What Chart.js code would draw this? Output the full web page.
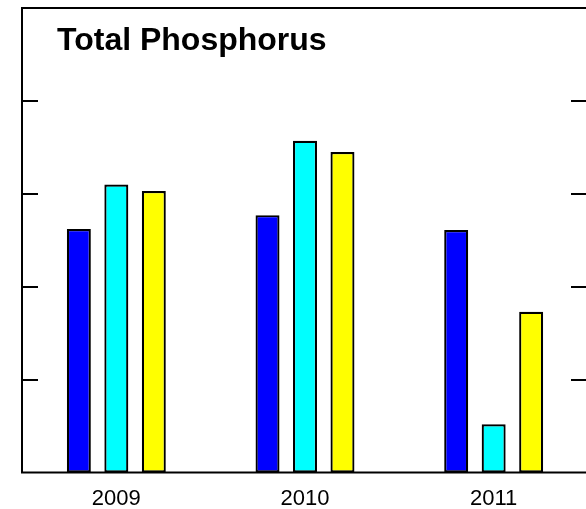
<!DOCTYPE html>
<html>
<head>
<meta charset="utf-8">
<script src="https://cdn.jsdelivr.net/npm/chart.js@4/dist/chart.umd.min.js"></script>
<style>
  html, body { margin: 0; padding: 0; background: #fff; overflow: hidden; }
  #wrap { width: 586px; height: 509px; overflow: hidden; }
</style>
</head>
<body>
<div id="wrap">
  <canvas id="chart" width="600" height="509"></canvas>
</div>
<script>
const years = ["2009", "2010", "2011"];
const seriesA = [2.62, 2.77, 2.61];
const seriesB = [3.1, 3.57, 0.52];
const seriesC = [3.03, 3.45, 1.73];
const yTicks = [1, 2, 3, 4];
const chartTitle = "Total Phosphorus";

// frame, inward ticks on both sides and the title inside the plot
const framePlugin = {
  id: "frame",
  afterDraw(chart) {
    const { ctx, chartArea } = chart;
    const y = chart.scales.y;
    ctx.save();
    ctx.strokeStyle = "#000";
    ctx.lineWidth = 2;
    ctx.strokeRect(chartArea.left, chartArea.top, chartArea.right - chartArea.left, chartArea.bottom - chartArea.top);
    ctx.beginPath();
    yTicks.forEach((v) => {
      const py = Math.round(y.getPixelForValue(v));
      ctx.moveTo(chartArea.left, py);
      ctx.lineTo(chartArea.left + 16, py);
      ctx.moveTo(chartArea.right, py);
      ctx.lineTo(chartArea.right - 17, py);
    });
    ctx.stroke();
    ctx.fillStyle = "#000";
    ctx.font = "bold 32px 'Liberation Sans', Arial, sans-serif";
    ctx.textBaseline = "alphabetic";
    ctx.fillText(chartTitle, chartArea.left + 35, chartArea.top + 42);
    ctx.restore();
  },
};

const barStyle = { borderColor: "#000", borderWidth: 2.2, borderSkipped: false };

new Chart(document.getElementById("chart").getContext("2d"), {
  type: "bar",
  data: {
    labels: years,
    datasets: [
      { data: seriesA, backgroundColor: "#0000ff", ...barStyle },
      { data: seriesB, backgroundColor: "#00ffff", ...barStyle },
      { data: seriesC, backgroundColor: "#ffff00", ...barStyle },
    ],
  },
  options: {
    responsive: false,
    animation: false,
    datasets: {
      bar: { categoryPercentage: 0.596, barPercentage: 0.64 },
    },
    layout: { padding: { left: 22, right: 12, top: 8, bottom: 0 } },
    plugins: {
      legend: { display: false },
      tooltip: { enabled: false },
      title: { display: false },
    },
    scales: {
      x: {
        grid: { display: false },
        border: { display: false },
        ticks: {
          color: "#000",
          padding: 5,
          font: { family: "'Liberation Sans', Arial, sans-serif", size: 22 },
        },
        afterFit: (scale) => { scale.height = 36.5; },
      },
      y: {
        display: false,
        min: 0,
        max: 5,
      },
    },
  },
  plugins: [framePlugin],
});
</script>
</body>
</html>
